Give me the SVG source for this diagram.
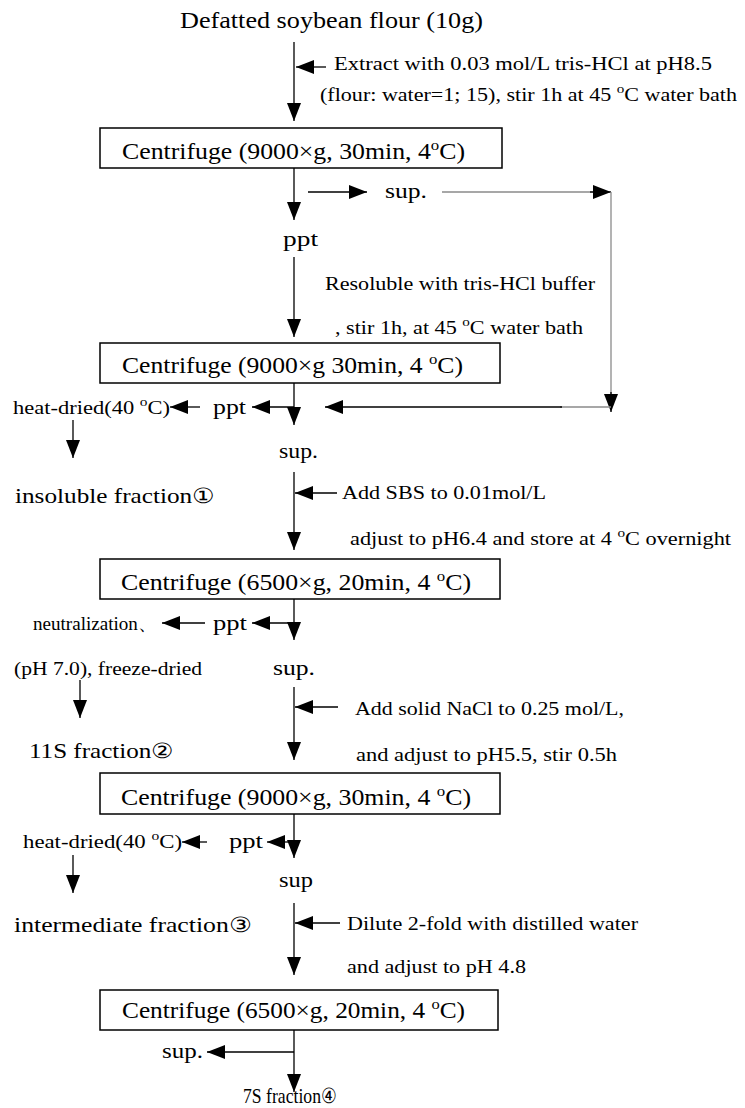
<svg xmlns="http://www.w3.org/2000/svg" width="745" height="1108" viewBox="0 0 745 1108">
<style>
text{font-family:"Liberation Serif","Times New Roman",serif;fill:#000}
.t23{font-size:23px}
.t22{font-size:22px}
.t21{font-size:21px}
.t19{font-size:19px}
.box{fill:#fff;stroke:#000;stroke-width:1.5}
.ln{fill:none;stroke:#000;stroke-width:1.3;marker-end:url(#ah)}
.gr{fill:none;stroke:#8a8a8a;stroke-width:1.3}
</style>
<defs>
<marker id="ah" markerUnits="userSpaceOnUse" markerWidth="18" markerHeight="14" refX="18" refY="7" orient="auto">
<path d="M0,0 L18,7 L0,14 z" fill="#000"/>
</marker>
</defs>
<g id="connectors">
<line class="ln" x1="294" y1="42" x2="294" y2="121"/>
<line class="ln" x1="326" y1="67" x2="296" y2="67"/>
<line class="ln" x1="294" y1="168" x2="294" y2="220"/>
<line class="ln" x1="308" y1="192" x2="367" y2="192"/>
<line class="gr" x1="442" y1="192" x2="594" y2="192"/>
<line class="ln" x1="590" y1="192" x2="611" y2="192"/>
<line class="gr" x1="611" y1="192" x2="611" y2="396"/>
<line class="ln" x1="611" y1="392" x2="611" y2="412"/>
<line class="gr" x1="611" y1="407" x2="560" y2="407"/>
<line class="ln" x1="562" y1="407" x2="325" y2="407"/>
<line class="ln" x1="294" y1="257" x2="294" y2="337"/>
<line class="ln" x1="294" y1="383" x2="294" y2="425"/>
<line class="ln" x1="294" y1="407" x2="252" y2="407"/>
<line class="ln" x1="200" y1="407" x2="170" y2="407"/>
<line class="ln" x1="73" y1="420" x2="73" y2="458"/>
<line class="ln" x1="294" y1="472" x2="294" y2="550"/>
<line class="ln" x1="337" y1="493" x2="295" y2="493"/>
<line class="ln" x1="294" y1="599" x2="294" y2="640"/>
<line class="ln" x1="294" y1="623" x2="252" y2="623"/>
<line class="ln" x1="205" y1="623" x2="162" y2="623"/>
<line class="ln" x1="80" y1="680" x2="80" y2="718"/>
<line class="ln" x1="294" y1="687" x2="294" y2="760"/>
<line class="ln" x1="338" y1="707" x2="295" y2="707"/>
<line class="ln" x1="294" y1="814" x2="294" y2="858"/>
<line class="ln" x1="294" y1="842" x2="267" y2="842"/>
<line class="ln" x1="207" y1="842" x2="182" y2="842"/>
<line class="ln" x1="73" y1="855" x2="73" y2="893"/>
<line class="ln" x1="294" y1="903" x2="294" y2="975"/>
<line class="ln" x1="340" y1="923" x2="295" y2="923"/>
<line class="ln" x1="294" y1="1030" x2="294" y2="1092"/>
<line class="ln" x1="294" y1="1052" x2="207" y2="1052"/>
</g>
<g id="n-start"><text class="t23" x="180" y="28" textLength="303" lengthAdjust="spacingAndGlyphs">Defatted soybean flour (10g)</text></g>
<g id="n-extract">
<text class="t19" x="334" y="70" textLength="378" lengthAdjust="spacingAndGlyphs">Extract with 0.03 mol/L tris-HCl at  pH8.5</text>
<text class="t19" x="320" y="101" textLength="417" lengthAdjust="spacingAndGlyphs">(flour: water=1; 15), stir 1h at 45 <tspan dy="-8" font-size="13">o</tspan><tspan dy="8">C water bath</tspan></text>
</g>
<g id="n-c1">
<rect class="box" x="100" y="128" width="402" height="40"/>
<text class="t23" x="122" y="159" textLength="343" lengthAdjust="spacingAndGlyphs">Centrifuge (9000×g, 30min, 4<tspan dy="-9" font-size="15">o</tspan><tspan dy="9">C)</tspan></text>
</g>
<g id="n-sup1"><text class="t22" x="385" y="198" textLength="42" lengthAdjust="spacingAndGlyphs">sup.</text></g>
<g id="n-ppt1"><text class="t22" x="283" y="246" textLength="35" lengthAdjust="spacingAndGlyphs">ppt</text></g>
<g id="n-resol">
<text class="t19" x="325" y="290" textLength="270" lengthAdjust="spacingAndGlyphs">Resoluble with tris-HCl buffer</text>
<text class="t19" x="335" y="334" textLength="248" lengthAdjust="spacingAndGlyphs">, stir 1h, at 45 <tspan dy="-8" font-size="13">o</tspan><tspan dy="8">C water bath</tspan></text>
</g>
<g id="n-c2">
<rect class="box" x="100" y="343" width="400" height="40"/>
<text class="t23" x="122" y="373" textLength="341" lengthAdjust="spacingAndGlyphs">Centrifuge (9000×g 30min, 4 <tspan dy="-9" font-size="15">o</tspan><tspan dy="9">C)</tspan></text>
</g>
<g id="n-ppt2"><text class="t22" x="213" y="414" textLength="33" lengthAdjust="spacingAndGlyphs">ppt</text></g>
<g id="n-heat1"><text class="t19" x="13" y="414" textLength="157" lengthAdjust="spacingAndGlyphs">heat-dried(40 <tspan dy="-8" font-size="13">o</tspan><tspan dy="8">C)</tspan></text></g>
<g id="n-sup2"><text class="t22" x="279" y="458" textLength="39" lengthAdjust="spacingAndGlyphs">sup.</text></g>
<g id="n-f1"><text class="t21" x="15" y="503" textLength="200" lengthAdjust="spacingAndGlyphs">insoluble fraction①</text></g>
<g id="n-sbs">
<text class="t19" x="342" y="499" textLength="204" lengthAdjust="spacingAndGlyphs">Add SBS to 0.01mol/L</text>
<text class="t19" x="350" y="545" textLength="381" lengthAdjust="spacingAndGlyphs">adjust to pH6.4 and store at 4 <tspan dy="-8" font-size="13">o</tspan><tspan dy="8">C overnight</tspan></text>
</g>
<g id="n-c3">
<rect class="box" x="100" y="559" width="400" height="40"/>
<text class="t23" x="121" y="590" textLength="350" lengthAdjust="spacingAndGlyphs">Centrifuge (6500×g, 20min, 4 <tspan dy="-9" font-size="15">o</tspan><tspan dy="9">C)</tspan></text>
</g>
<g id="n-ppt3"><text class="t22" x="213" y="630" textLength="34" lengthAdjust="spacingAndGlyphs">ppt</text></g>
<g id="n-neut">
<text class="t19" x="33" y="630" textLength="124" lengthAdjust="spacingAndGlyphs">neutralization、</text>
<text class="t19" x="14" y="675" textLength="188" lengthAdjust="spacingAndGlyphs">(pH 7.0), freeze-dried</text>
</g>
<g id="n-sup3"><text class="t22" x="273" y="675" textLength="42" lengthAdjust="spacingAndGlyphs">sup.</text></g>
<g id="n-nacl">
<text class="t19" x="355" y="715" textLength="269" lengthAdjust="spacingAndGlyphs">Add solid NaCl to 0.25 mol/L,</text>
<text class="t19" x="356" y="761" textLength="261" lengthAdjust="spacingAndGlyphs">and adjust to pH5.5, stir 0.5h</text>
</g>
<g id="n-f2"><text class="t21" x="29" y="758" textLength="145" lengthAdjust="spacingAndGlyphs">11S fraction②</text></g>
<g id="n-c4">
<rect class="box" x="100" y="773" width="400" height="41"/>
<text class="t23" x="121" y="805" textLength="350" lengthAdjust="spacingAndGlyphs">Centrifuge (9000×g, 30min, 4 <tspan dy="-9" font-size="15">o</tspan><tspan dy="9">C)</tspan></text>
</g>
<g id="n-ppt4"><text class="t22" x="229" y="848" textLength="34" lengthAdjust="spacingAndGlyphs">ppt</text></g>
<g id="n-heat2"><text class="t19" x="23" y="848" textLength="159" lengthAdjust="spacingAndGlyphs">heat-dried(40 <tspan dy="-8" font-size="13">o</tspan><tspan dy="8">C)</tspan></text></g>
<g id="n-sup4"><text class="t22" x="279" y="887" textLength="34" lengthAdjust="spacingAndGlyphs">sup</text></g>
<g id="n-f3"><text class="t21" x="14" y="932" textLength="238" lengthAdjust="spacingAndGlyphs">intermediate fraction③</text></g>
<g id="n-dil">
<text class="t19" x="347" y="930" textLength="291" lengthAdjust="spacingAndGlyphs">Dilute 2-fold with distilled water</text>
<text class="t19" x="347" y="973" textLength="179" lengthAdjust="spacingAndGlyphs">and adjust to pH 4.8</text>
</g>
<g id="n-c5">
<rect class="box" x="100" y="990" width="398" height="40"/>
<text class="t23" x="122" y="1018" textLength="343" lengthAdjust="spacingAndGlyphs">Centrifuge (6500×g, 20min, 4 <tspan dy="-9" font-size="15">o</tspan><tspan dy="9">C)</tspan></text>
</g>
<g id="n-sup5"><text class="t22" x="162" y="1058" textLength="41" lengthAdjust="spacingAndGlyphs">sup.</text></g>
<g id="n-f4"><text class="t21" x="243" y="1103" textLength="94" lengthAdjust="spacingAndGlyphs">7S fraction④</text></g>
</svg>
